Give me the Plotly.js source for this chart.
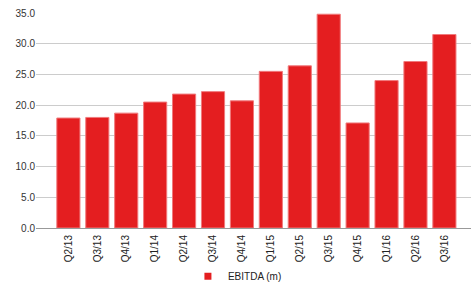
<!DOCTYPE html>
<html><head><meta charset="utf-8">
<script src="https://cdn.plot.ly/plotly-3.0.1.min.js"></script>
<style>html,body{margin:0;padding:0;background:#fff}#c{width:471px;height:282px}</style>
</head><body><div id="c"></div>
<script>
var quarters = ["Q2/13","Q3/13","Q4/13","Q1/14","Q2/14","Q3/14","Q4/14","Q1/15","Q2/15","Q3/15","Q4/15","Q1/16","Q2/16","Q3/16"];
var ebitda = [17.9, 18.0, 18.7, 20.5, 21.8, 22.2, 20.7, 25.5, 26.4, 34.8, 17.1, 24.0, 27.1, 31.5];
var seriesName = "EBITDA (m)";

Plotly.newPlot('c', [{
  type: 'bar', x: quarters, y: ebitda, name: seriesName,
  marker: {color: '#e41e20', line: {color: '#f07a7c', width: 1}},
  showlegend: false
}, {
  type: 'scatter', mode: 'markers', x: [null], y: [null], name: seriesName,
  marker: {symbol: 'square', size: 7, color: '#e41e20'},
  showlegend: true, hoverinfo: 'skip'
}], {
  width: 471, height: 282,
  margin: {l: 36, r: 0, t: 13, b: 54},
  paper_bgcolor: '#fff', plot_bgcolor: '#fff',
  font: {family: 'Liberation Sans, Arial, sans-serif', size: 10, color: '#333'},
  bargap: 0.2,
  xaxis: {type: 'category', range: [-1.12, 13.92], tickangle: -90, showgrid: false, ticks: '', automargin: false, ticklabelstandoff: 4, tickfont: {size: 10, color: '#222'}},
  yaxis: {range: [0, 35], dtick: 5, tickformat: '.1f', gridcolor: '#cccccc', zeroline: true, zerolinecolor: '#999', zerolinewidth: 1, ticks: '', tickfont: {size: 10, color: '#333'}, automargin: false},
  legend: {orientation: 'h', xref: 'container', yref: 'container', x: 0.399, xanchor: 'left', y: 0.02, yanchor: 'middle', bgcolor: 'rgba(0,0,0,0)', font: {size: 10, color: '#222'}, itemwidth: 30},
}, {displayModeBar: false, staticPlot: true});
</script></body></html>
